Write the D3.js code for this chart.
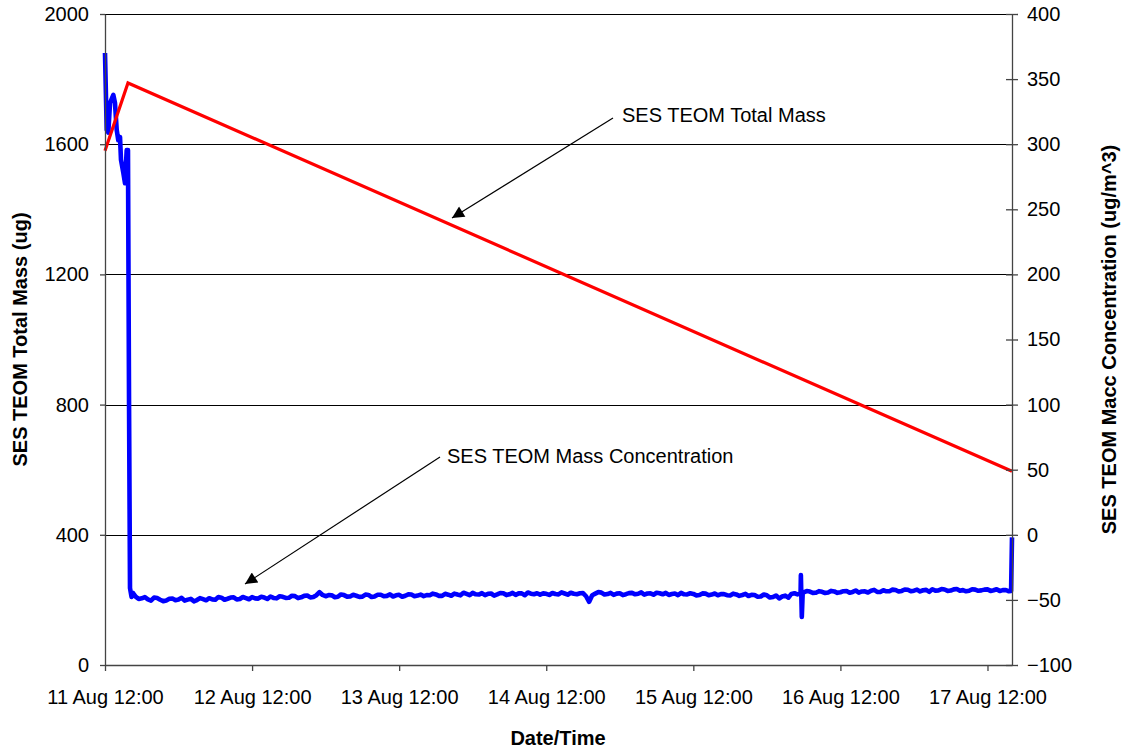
<!DOCTYPE html>
<html>
<head>
<meta charset="utf-8">
<script src="https://cdn.jsdelivr.net/npm/d3@7"></script>
<style>
  html, body { margin: 0; padding: 0; background: #fff; }
  svg { display: block; font-family: "Liberation Sans", Arial, sans-serif; }
</style>
</head>
<body>
<svg id="chart" width="1125" height="751"></svg>
<script>
// Time axis labels (one per day at noon)
const xTickLabels = ["11 Aug 12:00", "12 Aug 12:00", "13 Aug 12:00", "14 Aug 12:00",
                     "15 Aug 12:00", "16 Aug 12:00", "17 Aug 12:00"];
const runHours = 148;                       // length of the record, hours after the first label

// Left axis: total mass (ug)
const massTicks = [0, 400, 800, 1200, 1600, 2000];
// Right axis: mass concentration (ug/m^3)
const concTicks = [-100, -50, 0, 50, 100, 150, 200, 250, 300, 350, 400];

// Total mass: hours after start, mass (ug)
const massHours  = [0, 3.75, 148];
const massValues = [1580, 1788, 595];

// Concentration, start-up period: hours after start, value
const startHours  = [0, 0.28, 0.54, 0.82, 1.36, 1.63, 1.91, 2.17, 2.45, 2.61, 2.99, 3.27, 3.54, 3.75, 3.92, 4.08, 4.33, 4.57];
const startValues = [370, 311, 309, 331.6, 337.8, 331.6, 311, 303, 305.5, 288, 278, 270, 295.5, 295.5, 103.5, -41, -47.7, -44.7];

// Concentration, readings on the hour from hour 5 to hour 147
const hourlyFirst = 5;
const hourlyValues = [
  -47.5, -48.8, -49.6, -48.2, -49.9, -50.4, -48.9, -49.7, -50.6, -49.2, -50.1, -49.4,
  -48.7, -49.8, -48.3, -49.1, -48.0, -49.3, -48.6, -47.9, -49.0, -48.2, -47.4, -48.8,
  -47.6, -48.4, -47.1, -48.0, -46.6, -47.8, -44.0, -47.2, -46.5, -47.6, -46.3, -47.4,
  -46.8, -47.5, -46.2, -47.3, -46.0, -46.9, -47.4, -46.1, -46.8, -45.9, -46.7, -47.1,
  -46.4, -45.8, -46.9, -46.0, -45.2, -46.5, -45.4, -44.6, -45.9, -46.3, -45.1, -45.8,
  -44.9, -45.7, -46.2, -45.0, -44.3, -45.6, -46.0, -45.3, -44.7, -45.8, -45.1, -44.5,
  -45.6, -44.8, -51.5, -45.2, -44.4, -45.5, -46.1, -44.9, -45.6, -44.6, -45.3, -45.9,
  -45.0, -44.5, -45.7, -46.2, -45.1, -44.6, -45.8, -45.4, -46.3, -45.2, -45.9, -46.4,
  -45.5, -46.6, -45.8, -46.2, -47.0, -46.3, -47.4, -46.5, -47.8, -48.9, -46.7, -45.4,
  -45.8, -44.2, -43.6, -44.5, -43.8, -44.3, -43.5, -44.1, -43.2, -43.9, -44.4, -43.4,
  -43.0, -43.8, -42.6, -43.3, -42.4, -43.1, -42.2, -42.9, -43.5, -42.3, -41.8, -42.7,
  -42.0, -42.8, -41.6, -42.5, -43.0, -42.1, -42.7, -41.9, -42.6, -43.2, -42.4
];

// Concentration, readings on the half hour from hour 5.5 to hour 147.5
const halfHourFirst = 5.5;
const halfHourValues = [
  -49.3, -47.9, -50.5, -48.6, -51.0, -49.1, -50.2, -48.4, -49.8, -51.1, -48.6, -50.3,
  -49.6, -47.8, -49.9, -48.2, -49.7, -47.8, -49.5, -48.8, -47.6, -49.3, -48.5, -47.2,
  -48.5, -46.8, -48.6, -46.9, -48.1, -46.4, -46.2, -46.3, -47.9, -45.8, -47.5, -46.1,
  -47.7, -45.9, -47.8, -46.1, -47.2, -45.8, -46.5, -47.6, -45.7, -47.2, -45.9, -46.3,
  -45.2, -46.9, -45.3, -46.8, -45.9, -44.5, -46.4, -45.7, -44.8, -45.3, -46.7, -44.7,
  -46.3, -44.6, -45.0, -46.4, -45.2, -44.9, -45.0, -46.2, -45.5, -44.2, -46.0, -45.3,
  -44.9, -47.2, -46.4, -44.0, -45.9, -44.6, -45.2, -46.3, -44.8, -45.7, -44.2, -45.1,
  -46.0, -44.9, -44.6, -45.5, -46.3, -45.7, -44.9, -46.5, -45.0, -46.4, -45.1, -45.6,
  -46.4, -45.2, -46.9, -45.4, -46.1, -47.6, -45.9, -48.2, -46.6, -47.4, -48.3, -44.9,
  -45.0, -43.2, -44.6, -43.3, -44.7, -43.1, -44.6, -43.3, -44.5, -42.8, -43.5, -44.3,
  -42.3, -43.9, -43.4, -42.1, -43.6, -42.0, -43.4, -42.1, -42.6, -43.8, -42.9, -41.7,
  -43.1, -41.9, -42.9, -43.4, -41.8, -43.0, -42.1, -43.1, -41.8, -42.5, -43.4
];

// Concentration, short events between the regular readings: hours, value
const eventHours  = [113.55, 113.7, 113.85, 147.85, 148];
const eventValues = [-31, -63, -44.5, -43.2, -2];

// ---------------------------------------------------------------------------
const FONT = 20;
const parse = d3.utcParse("%d %b %H:%M");
const t0 = parse(xTickLabels[0]);
const at = h => new Date(t0.getTime() + h * 3600 * 1000);
const tickDates = xTickLabels.map(parse);

const svg = d3.select("#chart");
const plot = { left: 105, right: 1012, top: 14, bottom: 665 };

const x = d3.scaleUtc().domain([t0, at(runHours)]).range([plot.left, plot.right]);
const yMass = d3.scaleLinear().domain([0, 2000]).range([plot.bottom, plot.top]);
const yConc = d3.scaleLinear().domain([-100, 400]).range([plot.bottom, plot.top]);

// Horizontal grid lines on the mass axis
svg.append("g")
  .selectAll("line")
  .data(massTicks.filter(d => d > 0))
  .join("line")
  .attr("x1", plot.left).attr("x2", plot.right)
  .attr("y1", d => Math.round(yMass(d)) + 0.5)
  .attr("y2", d => Math.round(yMass(d)) + 0.5)
  .attr("stroke", "#000").attr("stroke-width", 1);

// Series data
const massData = massHours.map((h, i) => ({ t: at(h), v: massValues[i] }));
const concData = []
  .concat(startHours.map((h, i) => ({ h, v: startValues[i] })))
  .concat(hourlyValues.map((v, i) => ({ h: hourlyFirst + i, v })))
  .concat(halfHourValues.map((v, i) => ({ h: halfHourFirst + i, v })))
  .concat(eventHours.map((h, i) => ({ h, v: eventValues[i] })))
  .sort((a, b) => a.h - b.h)
  .map(d => ({ t: at(d.h), v: d.v }));

svg.append("path")
  .datum(concData)
  .attr("fill", "none")
  .attr("stroke", "#0000ff")
  .attr("stroke-width", 4.6)
  .attr("stroke-linejoin", "round")
  .attr("d", d3.line().x(d => x(d.t)).y(d => yConc(d.v)));

svg.append("path")
  .datum(massData)
  .attr("fill", "none")
  .attr("stroke", "#ff0000")
  .attr("stroke-width", 3.2)
  .attr("stroke-linejoin", "miter")
  .attr("d", d3.line().x(d => x(d.t)).y(d => yMass(d.v)));

// Axes
const axisColor = "#444";
const styleAxis = g => {
  g.selectAll(".domain").attr("stroke", axisColor).attr("stroke-width", 1.3);
  g.selectAll(".tick line").attr("stroke", axisColor).attr("stroke-width", 1.3);
  g.selectAll(".tick text").attr("fill", "#000").attr("font-size", FONT)
    .attr("font-family", "Liberation Sans, Arial, sans-serif");
};

svg.append("g")
  .attr("transform", `translate(${plot.left},0)`)
  .call(d3.axisLeft(yMass).tickValues(massTicks).tickFormat(d3.format("d"))
        .tickSize(5).tickPadding(11).tickSizeOuter(0))
  .call(styleAxis);

svg.append("g")
  .attr("transform", `translate(0,${plot.bottom})`)
  .call(d3.axisBottom(x).tickValues(tickDates).tickFormat((d, i) => xTickLabels[i])
        .tickSize(6).tickPadding(19).tickSizeOuter(0))
  .call(styleAxis);

const right = svg.append("g")
  .attr("transform", `translate(${plot.right},0)`)
  .call(d3.axisRight(yConc).tickValues(concTicks).tickSize(6).tickPadding(9).tickSizeOuter(0))
  .call(styleAxis);
right.selectAll(".tick line").attr("x1", -6);

// Axis titles
svg.append("text")
  .attr("transform", `translate(27,${(plot.top + plot.bottom) / 2}) rotate(-90)`)
  .attr("text-anchor", "middle")
  .attr("font-size", FONT).attr("font-weight", "bold")
  .text("SES TEOM Total Mass (ug)");

svg.append("text")
  .attr("transform", `translate(1116,${(plot.top + plot.bottom) / 2}) rotate(-90)`)
  .attr("text-anchor", "middle")
  .attr("font-size", FONT).attr("font-weight", "bold")
  .text("SES TEOM Macc Concentration (ug/m^3)");

svg.append("text")
  .attr("x", 558).attr("y", 745)
  .attr("text-anchor", "middle")
  .attr("font-size", FONT).attr("font-weight", "bold")
  .text("Date/Time");

// Series annotations with arrows
svg.append("defs").append("marker")
  .attr("id", "arrowhead")
  .attr("viewBox", "0 0 10 10")
  .attr("refX", 10).attr("refY", 5)
  .attr("markerWidth", 16).attr("markerHeight", 12)
  .attr("markerUnits", "userSpaceOnUse")
  .attr("orient", "auto")
  .append("path").attr("d", "M0,0 L10,5 L0,10 Z").attr("fill", "#000");

const notes = [
  { text: "SES TEOM Total Mass", tx: 622, ty: 122, from: [613, 118], to: [452, 218] },
  { text: "SES TEOM Mass Concentration", tx: 447, ty: 463, from: [440, 457], to: [245, 584] }
];
notes.forEach(n => {
  svg.append("line")
    .attr("x1", n.from[0]).attr("y1", n.from[1])
    .attr("x2", n.to[0]).attr("y2", n.to[1])
    .attr("stroke", "#000").attr("stroke-width", 1.2)
    .attr("marker-end", "url(#arrowhead)");
  svg.append("text")
    .attr("x", n.tx).attr("y", n.ty)
    .attr("font-size", FONT)
    .text(n.text);
});
</script>
</body>
</html>
